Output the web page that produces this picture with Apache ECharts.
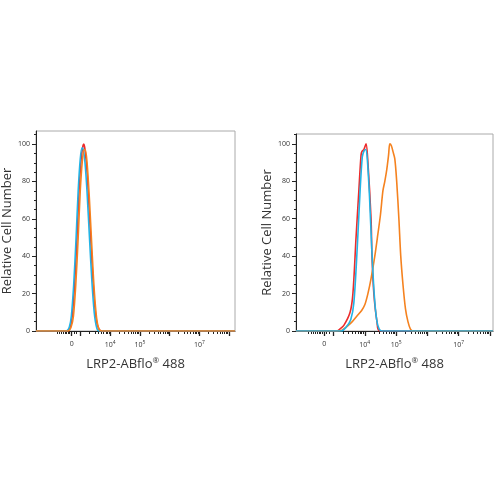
<!DOCTYPE html>
<html>
<head>
<meta charset="utf-8">
<script src="https://cdn.jsdelivr.net/npm/echarts@6/dist/echarts.min.js"></script>
<style>
  html, body { margin: 0; padding: 0; background: #fff; }
  #chart { width: 500px; height: 500px; }
</style>
</head>
<body>
<div id="chart"></div>
<script>
// x values are in display units of the biexponential axis: 10^n sits at n, "0" sits at 2.7
const xTickPos = [2.7, 4, 5, 7];
const xTickText = ['0', '10{s|4}', '10{s|5}', '10{s|7}'];
const xMajorTicks = [2.7, 3, 4, 5, 6, 7, 8];
const yTicks = [0, 20, 40, 60, 80, 100];

// left panel: all three histograms overlap
const leftRed = [[1.5,0],[2.55,0],[2.65,2],[2.72,8],[2.8,25],[2.88,50],[2.95,75],[3.02,92],[3.08,99],[3.11,100],[3.15,97],[3.22,85],[3.3,62],[3.38,38],[3.46,17],[3.54,5],[3.62,1],[3.7,0],[8.2,0]];
const leftBlue = [[1.5,0],[2.52,0],[2.62,2],[2.69,8],[2.77,25],[2.85,50],[2.92,75],[2.99,92],[3.05,98],[3.09,97],[3.15,90],[3.22,74],[3.3,50],[3.38,27],[3.46,10],[3.54,2],[3.62,0],[8.2,0]];
const leftOrange = [[1.5,0],[2.58,0],[2.68,2],[2.76,8],[2.84,25],[2.92,50],[2.99,75],[3.06,91],[3.12,97],[3.16,97],[3.22,90],[3.3,70],[3.38,45],[3.46,22],[3.54,7],[3.62,1],[3.72,0],[8.2,0]];

// right panel: orange shifted to ~10^5
const rightRed = [[1.8,0],[3.1,0],[3.2,1],[3.33,3],[3.53,10],[3.62,20],[3.72,50],[3.81,75],[3.88,94],[3.91,96],[3.97,97],[4.04,100],[4.1,90],[4.2,60],[4.23,40],[4.29,20],[4.39,5],[4.48,0],[8.1,0]];
const rightBlue = [[1.8,0],[3.25,0],[3.4,2],[3.55,6],[3.65,15],[3.76,45],[3.85,75],[3.92,93],[3.97,96],[4.03,97],[4.08,92],[4.15,72],[4.22,45],[4.3,20],[4.38,6],[4.46,1],[4.55,0],[8.1,0]];
const rightOrange = [[1.8,0],[3.2,0],[3.4,2],[3.6,5],[3.75,8],[3.9,11],[4.0,14],[4.1,20],[4.2,28],[4.32,40],[4.42,52],[4.5,62],[4.58,75],[4.64,80],[4.7,86],[4.76,94],[4.8,100],[4.85,99],[4.9,96],[4.96,92],[5.02,80],[5.09,60],[5.15,40],[5.22,25],[5.3,12],[5.38,5],[5.46,1],[5.54,0],[8.1,0]];

const red = '#ec2b2b';
const blue = '#22b4e6';
const orange = '#f5821f';
const font = 'Open Sans';

// minor tick positions: log decades plus the dense linear part around zero
const minorTicks = [2.2, 2.28, 2.35, 2.42, 2.48, 2.53, 2.58, 2.63, 2.78, 2.85, 3.3, 3.48, 3.6, 3.7, 3.78, 3.85, 3.9, 3.95];
for (let n = 4; n <= 7; n++) {
  for (let k = 2; k <= 9; k++) minorTicks.push(n + Math.log10(k));
}

const chart = echarts.init(document.getElementById('chart'));

function xAxes(gridIndex, min, max) {
  return [
    {
      type: 'value', gridIndex, min, max,
      name: '{a|LRP2-ABflo}{r|®}{a| 488}',
      nameLocation: 'middle', nameGap: 26,
      nameTextStyle: {
        rich: {
          a: { fontFamily: font, fontSize: 13, color: '#333' },
          r: { fontFamily: font, fontSize: 8, color: '#333', verticalAlign: 'top', padding: [0, 0, 6, 0] }
        }
      },
      axisLine: { show: true, onZero: false, lineStyle: { color: '#222', width: 1 } },
      axisTick: { show: true, customValues: xMajorTicks, length: 5, lineStyle: { color: '#222', width: 1.3 } },
      axisLabel: {
        customValues: xTickPos, margin: 9,
        formatter: v => xTickText[xTickPos.indexOf(v)] ?? '',
        fontFamily: font, fontSize: 7, color: '#333',
        rich: { s: { fontSize: 5, color: '#333', verticalAlign: 'top', padding: [0, 0, 5, 0] } }
      },
      splitLine: { show: false }
    },
    {
      type: 'value', gridIndex, min, max, position: 'bottom',
      axisLine: { show: false },
      axisTick: { show: true, customValues: minorTicks, length: 3, lineStyle: { color: '#222', width: 1 } },
      axisLabel: { show: false },
      splitLine: { show: false }
    }
  ];
}

function yAxis(gridIndex, max) {
  return {
    type: 'value', gridIndex, min: 0, max,
    name: 'Relative Cell Number', nameLocation: 'middle', nameGap: 17,
    nameTextStyle: { fontFamily: font, fontSize: 13, color: '#333' },
    axisLine: { show: true, lineStyle: { color: '#222' } },
    axisTick: { show: true, customValues: yTicks, length: 4, lineStyle: { color: '#222' } },
    minorTick: { show: true, splitNumber: 4, length: 2, lineStyle: { color: '#222' } },
    axisLabel: { customValues: yTicks, margin: 6, fontFamily: font, fontSize: 7, color: '#333' },
    splitLine: { show: false }
  };
}

function line(data, color, xAxisIndex, yAxisIndex, z) {
  return {
    type: 'line', data, xAxisIndex, yAxisIndex, z,
    showSymbol: false, smooth: 0.3,
    lineStyle: { color, width: 1.6 },
    animation: false
  };
}

chart.setOption({
  backgroundColor: '#fff',
  animation: false,
  grid: [
    { left: 36, top: 131, width: 199, height: 200, show: true, borderColor: '#aaa', borderWidth: 1 },
    { left: 296, top: 134, width: 197, height: 197, show: true, borderColor: '#aaa', borderWidth: 1 }
  ],
  xAxis: [...xAxes(0, 1.5, 8.2), ...xAxes(1, 1.8, 8.1)],
  yAxis: [yAxis(0, 107), yAxis(1, 105.3)],
  series: [
    line(leftRed, red, 0, 0, 2),
    line(leftBlue, blue, 0, 0, 3),
    line(leftOrange, orange, 0, 0, 4),
    line(rightRed, red, 2, 1, 2),
    line(rightOrange, orange, 2, 1, 3),
    line(rightBlue, blue, 2, 1, 4)
  ]
});
</script>
</body>
</html>
